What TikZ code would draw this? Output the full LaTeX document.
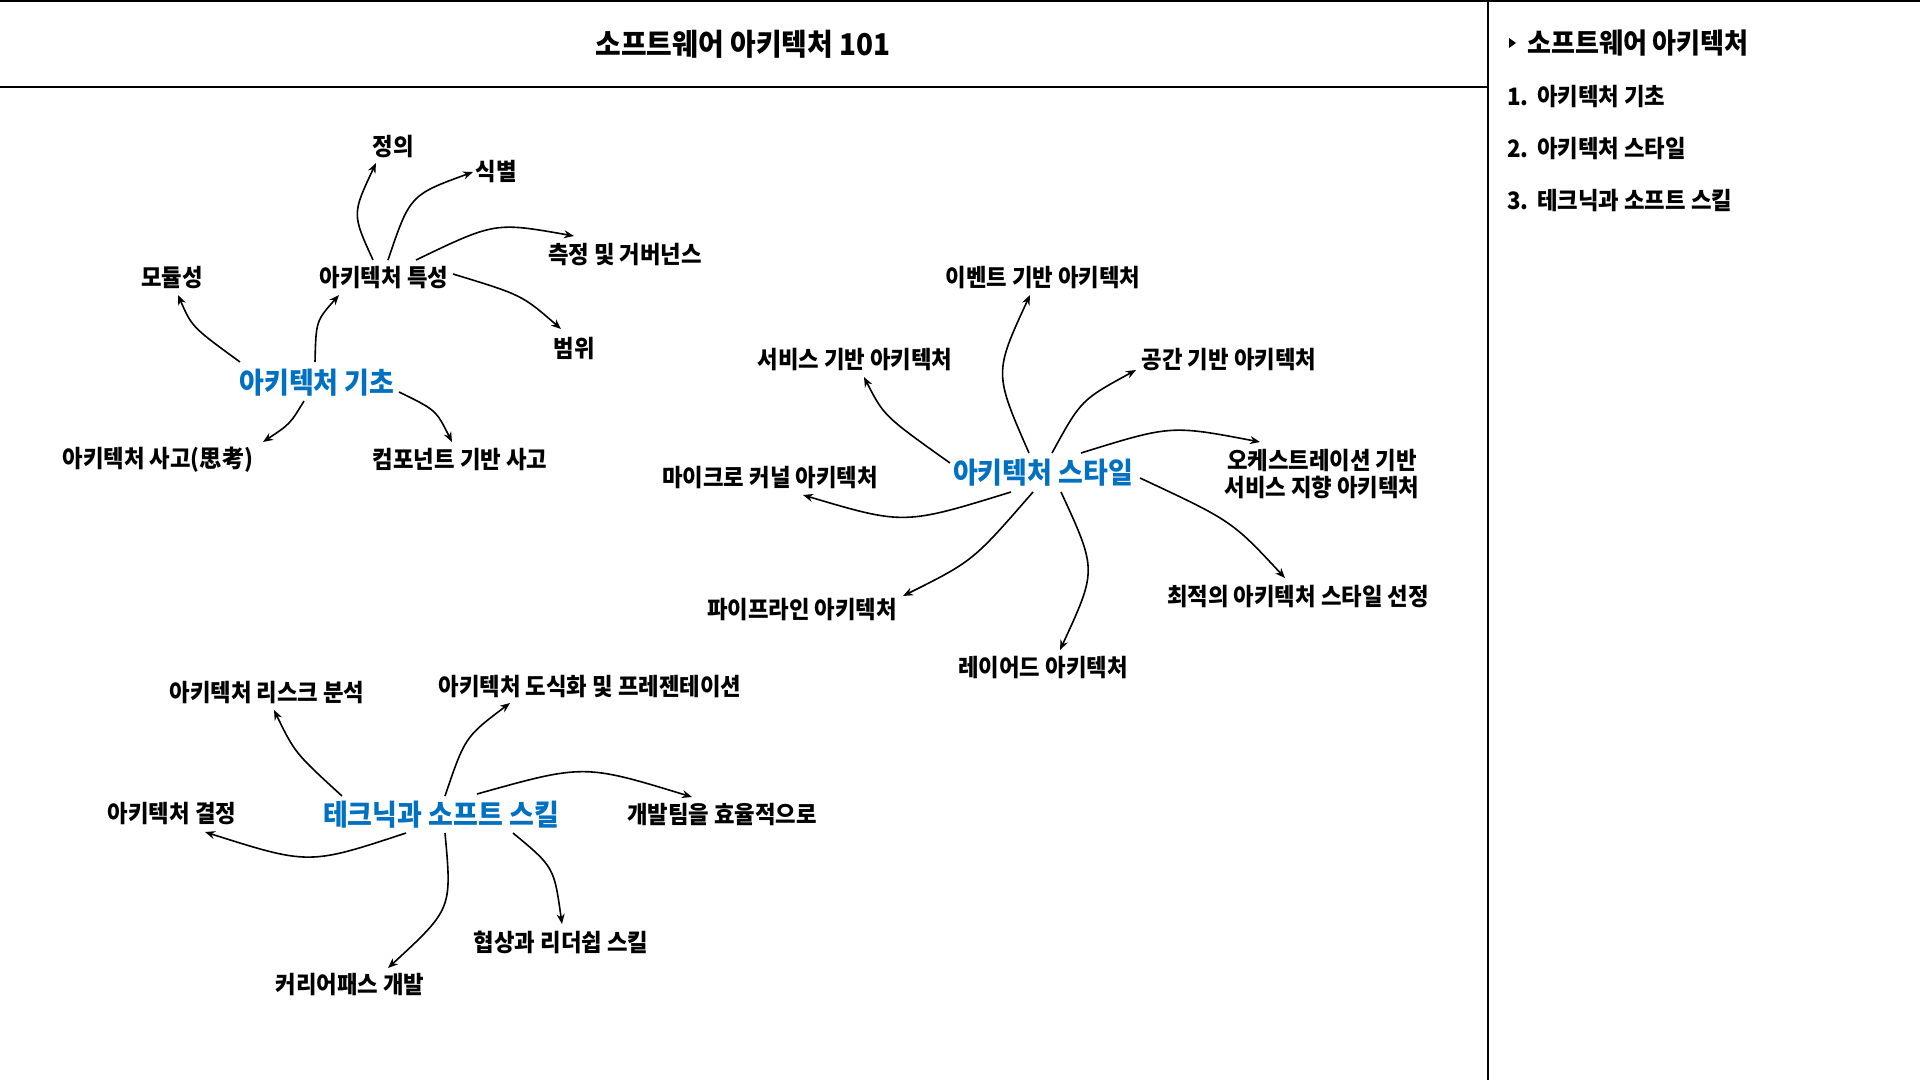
\documentclass[tikz,border=0pt]{standalone}
\usepackage{fontspec}
\setmainfont{Noto Sans CJK KR}[FakeStretch=0.93]
\usetikzlibrary{calc,arrows.meta}
\definecolor{hubblue}{HTML}{0070C0}
\begin{document}
\begin{tikzpicture}[x=1pt,y=-1pt,
  leaf/.style={font=\bfseries\fontsize{24}{27}\selectfont, inner sep=0pt, align=center},
  hub/.style={font=\bfseries\fontsize{29}{32}\selectfont, text=hubblue, inner sep=0pt},
  titletext/.style={font=\bfseries\fontsize{30}{33}\selectfont, inner sep=0pt},
  tochead/.style={font=\bfseries\fontsize{28}{31}\selectfont, inner sep=0pt, anchor=west},
  tocitem/.style={font=\bfseries\fontsize{24}{27}\selectfont, inner sep=0pt, anchor=west},
  arr/.style={line width=1.6pt, -{Stealth[length=10pt,width=8pt]}},
  framerule/.style={line width=1.6pt}]
\useasboundingbox (0,0) rectangle (1920,1080);
\fill[white] (0,0) rectangle (1920,1080);
% frame
\draw[framerule] (0,1) -- (1920,1);
\draw[framerule] (1488,0) -- (1488,1080);
\draw[framerule] (0,87) -- (1488,87);
% title and contents
\node[titletext] (title) at (743,44) {소프트웨어 아키텍처 101};
\fill (1509,38) -- (1516,43) -- (1509,48) -- cycle;
\node[tochead] (toch) at (1527,43) {소프트웨어 아키텍처};
\node[tocitem] (toc1) at (1507,97) {\makebox[30pt][l]{1.}아키텍처 기초};
\node[tocitem] (toc2) at (1507,149) {\makebox[30pt][l]{2.}아키텍처 스타일};
\node[tocitem] (toc3) at (1507,201) {\makebox[30pt][l]{3.}테크닉과 소프트 스킬};

% cluster 1
\node[hub] (A) at (317,383) {아키텍처 기초};
\node[leaf] (B) at (384,278) {아키텍처 특성};
\node[leaf] (M) at (172,278) {모듈성};
\node[leaf] (D) at (393,147) {정의};
\node[leaf] (S1) at (496,172) {식별};
\node[leaf] (G) at (625,255) {측정 및 거버넌스};
\node[leaf] (R) at (574,348) {범위};
\node[leaf] (T) at (158,460) {아키텍처 사고(思考)};
\node[leaf] (K) at (460,460) {컴포넌트 기반 사고};

\draw[arr] ($(A)+(-2,-21)$) .. controls (316,321) .. ($(B)+(-45,17)$);
\draw[arr] ($(A)+(-77,-21)$) .. controls (192,327) .. ($(M)+(6,17)$);
\draw[arr] ($(A)+(-13,18)$) .. controls (290,424) .. ($(T)+(105,-18)$);
\draw[arr] ($(A)+(82,9)$) .. controls (436,410) .. ($(K)+(-8,-18)$);
\draw[arr] ($(B)+(-11,-18)$) .. controls (352,214) .. ($(D)+(-17,16)$);
\draw[arr] ($(B)+(4,-18)$) .. controls (410,195) .. ($(S1)+(-23,0)$);
\draw[arr] ($(B)+(32,-18)$) .. controls (495,222) .. ($(G)+(-51,-19)$);
\draw[arr] ($(B)+(69,-4)$) .. controls (522,295) .. ($(R)+(-13,-19)$);

% cluster 2
\node[hub] (C2) at (1043,473) {아키텍처 스타일};
\node[leaf] (E1) at (1043,278) {이벤트 기반 아키텍처};
\node[leaf] (E2) at (855,360) {서비스 기반 아키텍처};
\node[leaf] (E3) at (1229,360) {공간 기반 아키텍처};
\node[leaf] (E4) at (770,478) {마이크로 커널 아키텍처};
\node[leaf] (E5) at (1322,474) {오케스트레이션 기반\\서비스 지향 아키텍처};
\node[leaf] (E6) at (802,610) {파이프라인 아키텍처};
\node[leaf] (E7) at (1298,597) {최적의 아키텍처 스타일 선정};
\node[leaf] (E8) at (1043,668) {레이어드 아키텍처};

\draw[arr] ($(C2)+(-14,-20)$) .. controls (994,373) .. ($(E1)+(-13,17)$);
\draw[arr] ($(C2)+(-93,-10)$) .. controls (884,416) .. ($(E2)+(9,17)$);
\draw[arr] ($(C2)+(9,-20)$) .. controls (1081,400) .. ($(E3)+(-93,10)$);
\draw[arr] ($(C2)+(-32,19)$) .. controls (904,525) .. ($(E4)+(33,17)$);
\draw[arr] ($(C2)+(38,-20)$) .. controls (1171,425) .. ($(E5)+(-62,-32)$);
\draw[arr] ($(C2)+(-10,19)$) .. controls (973,561) .. ($(E6)+(101,-14)$);
\draw[arr] ($(C2)+(97,5)$) .. controls (1232,521) .. ($(E7)+(-13,-19)$);
\draw[arr] ($(C2)+(18,19)$) .. controls (1097,570) .. ($(E8)+(17,-18)$);

% cluster 3
\node[hub] (C3) at (441,815) {테크닉과 소프트 스킬};
\node[leaf] (F1) at (267,693) {아키텍처 리스크 분석};
\node[leaf] (F2) at (590,687) {아키텍처 도식화 및 프레젠테이션};
\node[leaf] (F3) at (172,814) {아키텍처 결정};
\node[leaf] (F4) at (722,814) {개발팀을 효율적으로};
\node[leaf] (F5) at (561,942) {협상과 리더쉽 스킬};
\node[leaf] (F6) at (350,985) {커리어패스 개발};

\draw[arr] ($(C3)+(-99,-19)$) .. controls (295,753) .. ($(F1)+(7,17)$);
\draw[arr] ($(C3)+(4,-19)$) .. controls (465,737) .. ($(F2)+(-80,16)$);
\draw[arr] ($(C3)+(-35,18)$) .. controls (309,865) .. ($(F3)+(33,18)$);
\draw[arr] ($(C3)+(36,-21)$) .. controls (584,764) .. ($(F4)+(-30,-17)$);
\draw[arr] ($(C3)+(72,18)$) .. controls (554,867) .. ($(F5)+(1,-18)$);
\draw[arr] ($(C3)+(4,18)$) .. controls (452,909) .. ($(F6)+(38,-17)$);
\end{tikzpicture}
\end{document}
